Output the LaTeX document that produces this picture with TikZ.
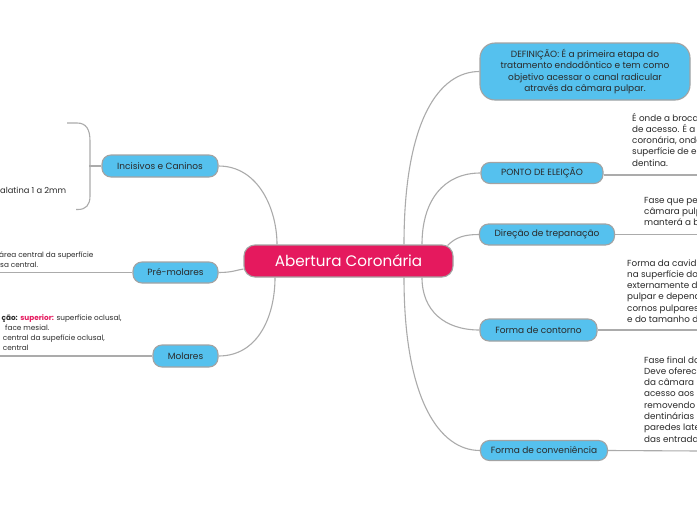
\documentclass[tikz,border=0pt]{standalone}
\usepackage{fontspec}
\setmainfont{Poppins}
\usetikzlibrary{backgrounds}
\definecolor{nodeblue}{HTML}{55C1EE}
\definecolor{centralpink}{HTML}{E5195E}
\definecolor{bordergray}{HTML}{A3A3A3}
\definecolor{linegray}{HTML}{ABABAB}
\definecolor{txtdark}{HTML}{2A2A2A}
\begin{document}
\begin{tikzpicture}[x=1pt,y=-1pt,
  topic/.style={draw=bordergray, line width=1.1pt, fill=nodeblue, rounded corners=9pt, inner sep=0pt, font=\fontsize{9}{10}\selectfont, text=txtdark},
  conn/.style={draw=linegray, line width=1.1pt},
  body/.style={anchor=base west, inner sep=0pt, align=left, font=\fontsize{8.8}{11.3}\selectfont, text=txtdark},
  leftline/.style={anchor=base west, inner sep=0pt, font=\fontsize{7.3}{8}\selectfont, text=txtdark}]
\useasboundingbox (0,0) rectangle (697,520);
\clip (0,0) rectangle (697,520);

\node[topic, fill=centralpink, text=white, minimum width=209pt, minimum height=32pt, rounded corners=11pt, font=\fontsize{15.2}{17}\selectfont] (c) at (348.5,261) {Abertura Coronária};

\node[topic, minimum width=210pt, minimum height=57pt, rounded corners=15pt, align=center, font=\fontsize{9}{11.5}\selectfont] (def) at (585,71.5) {DEFINIÇÃO: É a primeira etapa do\\tratamento endodôntico e tem como\\objetivo acessar o canal radicular\\através da câmara pulpar.};

\node[topic, minimum width=122pt, minimum height=21pt] (pe) at (542,173) {PONTO DE ELEIÇÃO};
\node[topic, minimum width=135pt, minimum height=21pt] (dt) at (547,234.5) {Direção de trepanação};
\node[topic, minimum width=117pt, minimum height=22pt] (fc) at (538.5,330) {Forma de contorno};
\node[topic, minimum width=127pt, minimum height=20pt] (fv) at (544,450.5) {Forma de conveniência};

\node[topic, minimum width=116pt, minimum height=22pt] (ic) at (160,166) {Incisivos e Caninos};
\node[topic, minimum width=85pt, minimum height=21pt] (pm) at (175.5,272.5) {Pré-molares};
\node[topic, minimum width=65pt, minimum height=22pt] (mo) at (185.5,356) {Molares};

% text blocks (base = last line)
\node[body] (tpe) at (632,166.2) {É onde a broca\\de acesso. É a\\coronária, onde\\superfície de es\\dentina.};
\node[body] (tdt) at (644,225.6) {Fase que pen\\câmara pulp\\manterá a br};
\node[body] (tfc) at (627,322.5) {Forma da cavid\\na superfície do\\externamente do\\pulpar e depend\\cornos pulpares\\e do tamanho d};
\node[body] (tfv) at (644,442.1) {Fase final da\\Deve oferec\\da câmara\\acesso aos\\removendo\\dentinárias\\paredes late\\das entradas};

\node[anchor=base west, inner sep=0pt, font=\fontsize{8.3}{9}\selectfont, text=txtdark] (tic) at (0,193) {alatina 1 a 2mm};
\node[leftline] (tpm1) at (-1,257.5) {área central da superfície};
\node[leftline] (tpm2) at (0,267) {sa central.};
\node[leftline] (tmo1) at (1.5,320.5) {\textbf{ção:} \textcolor{centralpink}{\textbf{superior:}} superfície oclusal,};
\node[leftline] (tmo2) at (5,330.5) {face mesial.};
\node[leftline] (tmo3) at (2.7,340.5) {central da supefície oclusal,};
\node[leftline] (tmo4) at (2.7,350.5) {central};

\begin{scope}[on background layer]
\fill[white] (0,0) rectangle (697,520);
% left connectors
\draw[conn] (ic.east) .. controls +(40,0) and +(0,-35) .. ([xshift=-71.5pt]c.north);
\draw[conn] (pm.east) .. controls +(14,0) and +(-7,1) .. ([yshift=-8pt]c.west);
\draw[conn] (mo.east) .. controls +(40,0) and +(0,38) .. ([xshift=-73.5pt]c.south);
% right connectors
\draw[conn] ([xshift=55.5pt]c.north) .. controls +(0,-125) and +(-40,0) .. (def.west);
\draw[conn] ([xshift=73.5pt]c.north) .. controls +(0,-45) and +(-36,0) .. (pe.west);
\draw[conn] ([xshift=-6pt,yshift=-1pt]c.north east) .. controls +(8,-8) and +(-15,0) .. (dt.west);
\draw[conn] ([xshift=73.5pt]c.south) .. controls +(0,33) and +(-35,0) .. (fc.west);
\draw[conn] ([xshift=55.5pt]c.south) .. controls +(0,123) and +(-40,0) .. (fv.west);
% text underlines
\coordinate (peEnd) at (700,175);
\coordinate (dtEnd) at (700,234.5);
\coordinate (fcEnd) at (700,330);
\coordinate (fvEnd) at (700,451);
\draw[conn] ([yshift=-2pt]pe.east) -- (peEnd);
\draw[conn] (dt.east) -- (dtEnd);
\draw[conn] (fc.east) -- (fcEnd);
\draw[conn] (fv.east) -- (fvEnd);
\coordinate (pmEnd) at (-3,272.5);
\coordinate (moEnd) at (-3,356);
\draw[conn] (pm.west) -- (pmEnd);
\draw[conn] (mo.west) -- (moEnd);
% bracket for Incisivos
\coordinate (brTop) at (67,123);
\coordinate (brBot) at (76,209.5);
\draw[conn] (ic.west) -- ++(-12,0);
\draw[conn] (brTop) -- (77,123) .. controls (86,123) and (90,129) .. (90,141) -- (90,196) .. controls (90,205) and (86,209.5) .. (78,209.5) -- (brBot);
\end{scope}
\end{tikzpicture}
\end{document}
